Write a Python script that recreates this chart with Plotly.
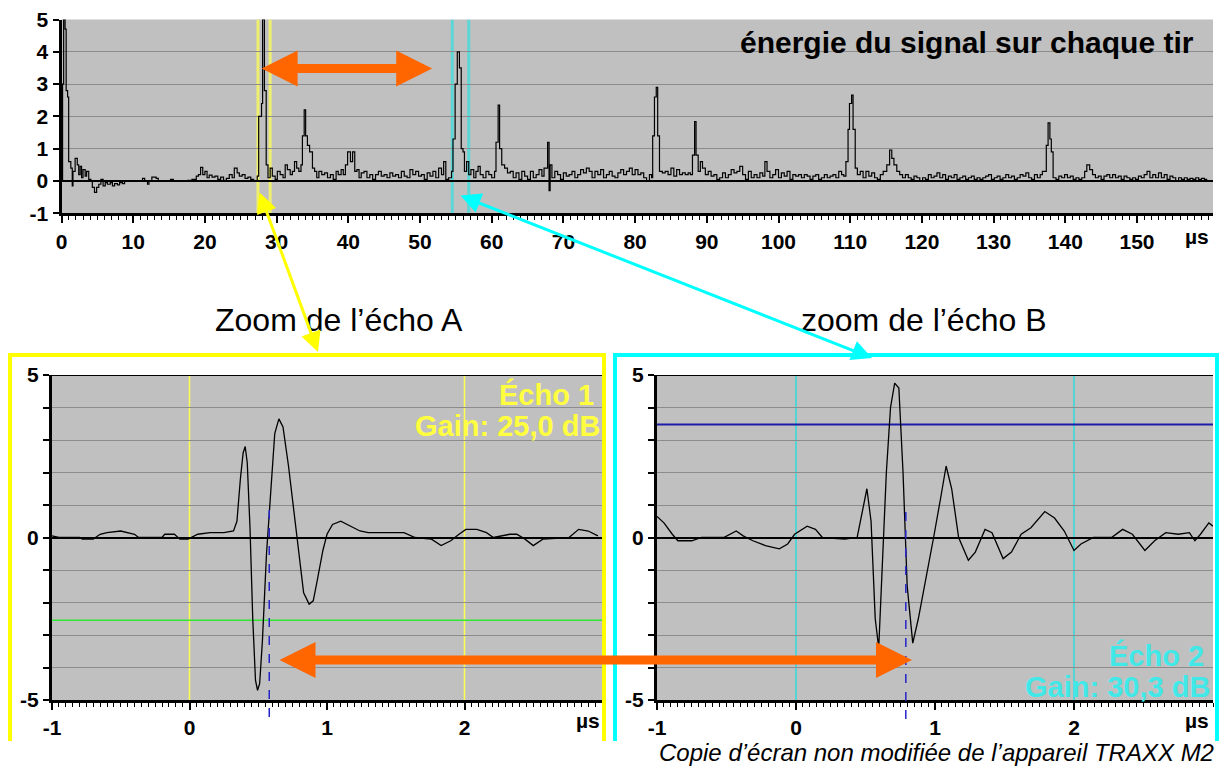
import plotly.graph_objects as go

# ---------------- data ----------------
# top panel: signal energy on each shot (µs, arbitrary units)
top_t = [
    0.0, 0.15, 0.3, 0.5, 0.65, 0.85, 1.0, 1.3, 1.5, 1.6,
    1.9, 2.2, 2.4, 2.6, 2.8, 3.0, 3.3, 3.5, 3.8, 4.1,
    4.3, 4.6, 4.9, 5.2, 5.5, 5.8, 6.1, 6.4, 6.8, 7.1,
    7.4, 7.8, 8.1, 8.5, 8.8, 11.0, 11.3, 11.6, 12.0, 12.2,
    12.6, 13.2, 13.5, 15.2, 15.6, 17.6, 18.2, 18.8, 19.1, 19.4,
    19.7, 20.0, 20.3, 20.6, 21.0, 21.4, 21.8, 22.2, 22.6, 23.0,
    23.4, 23.8, 24.1, 24.5, 24.8, 25.2, 25.6, 26.0, 26.4, 26.8,
    27.3, 27.5, 27.9, 28.05, 28.3, 28.55, 28.8, 29.1, 29.4, 29.8,
    30.1, 30.5, 30.9, 31.2, 31.5, 31.9, 32.2, 32.5, 32.8, 33.1,
    33.4, 33.6, 33.85, 34.05, 34.3, 34.6, 35.0, 35.3, 35.6, 35.9,
    36.3, 36.7, 37.1, 37.5, 37.9, 38.3, 38.6, 39.0, 39.3, 39.6,
    39.9, 40.3, 40.6, 40.9, 41.2, 41.5, 41.8, 42.2, 42.6, 43.0,
    43.4, 43.8, 44.2, 44.6, 45.0, 45.4, 45.8, 46.2, 46.6, 47.0,
    47.4, 47.8, 48.2, 48.6, 49.0, 49.4, 49.8, 50.2, 50.6, 51.0,
    51.4, 51.8, 52.2, 52.6, 53.0, 53.3, 53.6, 54.0, 54.4, 54.6,
    54.9, 55.2, 55.5, 55.75, 56.0, 56.2, 56.5, 56.8, 57.1, 57.5,
    57.8, 58.1, 58.4, 58.8, 59.2, 59.6, 60.0, 60.4, 60.6, 60.9,
    61.1, 61.4, 61.8, 62.2, 62.6, 63.0, 63.4, 63.8, 64.2, 64.6,
    65.0, 65.4, 65.8, 66.2, 66.6, 67.0, 67.3, 67.6, 67.8, 68.0,
    68.15, 68.4, 68.8, 69.2, 69.6, 70.0, 70.4, 70.8, 71.2, 71.6,
    72.0, 72.4, 72.8, 73.2, 73.6, 74.0, 74.4, 74.8, 75.2, 75.6,
    76.0, 76.4, 76.8, 77.2, 77.6, 78.0, 78.4, 78.8, 79.2, 79.6,
    80.0, 80.4, 80.8, 81.2, 81.6, 82.0, 82.3, 82.45, 82.7, 82.95,
    83.15, 83.4, 83.8, 84.2, 84.6, 85.0, 85.4, 85.8, 86.2, 86.6,
    87.0, 87.4, 87.7, 88.0, 88.3, 88.5, 88.8, 89.1, 89.4, 89.8,
    90.2, 90.6, 91.0, 91.4, 91.8, 92.2, 92.6, 93.0, 93.4, 93.8,
    94.2, 94.6, 95.0, 95.4, 95.8, 96.2, 96.6, 97.0, 97.4, 97.8,
    98.1, 98.4, 98.8, 99.2, 99.6, 100.0, 100.4, 100.8, 101.2, 101.6,
    102.0, 102.4, 102.8, 103.2, 103.6, 104.0, 104.4, 104.8, 105.2, 105.6,
    106.0, 106.4, 106.8, 107.2, 107.6, 108.0, 108.4, 108.8, 109.1, 109.4,
    109.7, 109.9, 110.2, 110.4, 110.7, 111.0, 111.4, 111.8, 112.2, 112.6,
    113.0, 113.4, 113.8, 114.2, 114.6, 115.1, 115.5, 115.8, 116.1, 116.5,
    116.9, 117.3, 117.7, 118.1, 118.5, 118.9, 119.3, 119.7, 120.1, 120.5,
    120.9, 121.3, 121.7, 122.1, 122.5, 122.9, 123.3, 123.7, 124.1, 124.5,
    124.9, 125.3, 125.7, 126.1, 126.5, 126.9, 127.3, 127.7, 128.1, 128.5,
    128.9, 129.3, 129.7, 130.1, 130.5, 130.9, 131.3, 131.7, 132.1, 132.5,
    132.9, 133.3, 133.7, 134.1, 134.5, 134.9, 135.3, 135.7, 136.1, 136.5,
    136.8, 137.1, 137.35, 137.6, 137.85, 138.05, 138.3, 138.7, 139.1, 139.5,
    139.9, 140.3, 140.7, 141.1, 141.5, 141.9, 142.3, 142.7, 143.0, 143.4,
    143.8, 144.2, 144.6, 145.0, 145.4, 145.8, 146.2, 146.6, 147.0, 147.4,
    147.8, 148.2, 148.6, 149.0, 149.4, 149.8, 150.2, 150.6, 151.0, 151.4,
    151.8, 152.2, 152.6, 153.0, 153.4, 153.8, 154.2, 154.6, 155.0, 155.4,
    155.8, 156.2, 156.6, 157.0, 157.4, 157.8, 158.2, 158.6, 159.0, 159.4,
    159.8,
]
top_e = [
    0.0, 3.0, 5.0, 4.7, 2.8, 2.6, 0.6, 0.4, -0.15, 0.3,
    0.7, 0.5, 0.2, 0.45, 0.1, 0.35, 0.15, 0.3, 0.05, 0.0,
    -0.2, -0.35, -0.2, -0.1, 0.05, -0.15, -0.05, -0.1, -0.05, -0.15,
    -0.08, -0.12, -0.05, -0.08, 0.0, 0.0, 0.08, 0.0, -0.1, 0.0,
    0.12, 0.08, 0.0, 0.05, 0.0, 0.02, 0.05, 0.15, 0.2, 0.42,
    0.2, 0.3, 0.1, 0.18, 0.12, 0.15, 0.05, 0.12, 0.02, 0.08,
    0.2, 0.1, 0.4, 0.25, 0.15, 0.2, 0.08, 0.12, 0.05, 0.0,
    0.15, 2.0, 2.4, 5.0, 2.8, 0.5, 0.1, 0.4, 0.15, 0.05,
    0.3, 0.2, 0.1, 0.5, 0.35, 0.2, 0.3, 0.6, 0.4, 0.3,
    0.5, 1.4, 2.2, 1.4, 1.1, 0.9, 0.4, 0.3, 0.1, 0.3,
    0.2, 0.25, 0.1, 0.2, 0.05, 0.3, 0.2, 0.35, 0.2, 0.5,
    0.9, 0.6, 0.9, 0.3, 0.35, 0.1, 0.25, 0.3, 0.1, 0.2,
    0.05, 0.2, 0.3, 0.15, 0.2, 0.1, 0.25, 0.15, 0.2, 0.1,
    0.3, 0.15, 0.1, 0.35, 0.2, 0.3, 0.15, 0.2, 0.05, 0.25,
    0.15, 0.3, 0.1, 0.4, 0.2, 0.6, 0.05, 0.1, 0.3, 1.3,
    3.0, 4.0, 3.5, 1.0, 0.9, 0.3, 0.6, 0.2, 0.35, 0.1,
    0.3, 0.45, 0.2, 0.1, 0.3, 0.2, 0.1, 0.3, 1.2, 2.35,
    1.0, 0.5, 0.4, 0.25, 0.3, 0.1, 0.25, 0.05, 0.3, 0.15,
    0.05, 0.3, 0.1, 0.2, 0.35, 0.15, 0.4, 0.4, 1.2, -0.3,
    0.5, 0.1, 0.3, 0.2, 0.05, 0.25, 0.15, 0.2, 0.3, 0.1,
    0.2, 0.35, 0.25, 0.4, 0.3, 0.1, 0.3, 0.2, 0.35, 0.1,
    0.2, 0.3, 0.15, 0.1, 0.25, 0.35, 0.2, 0.3, 0.4, 0.2,
    0.35, 0.2, 0.25, 0.1, 0.0, 0.2, 0.1, 1.4, 2.6, 2.9,
    1.4, 0.3, 0.25, 0.3, 0.2, 0.4, 0.15, 0.35, 0.2, 0.25,
    0.2, 0.25, 0.2, 0.8, 1.84, 0.8, 0.3, 0.6, 0.4, 0.2,
    0.3, 0.15, 0.2, 0.05, 0.1, 0.25, 0.1, 0.2, 0.35, 0.25,
    0.3, 0.45, 0.2, 0.05, 0.3, 0.1, 0.2, 0.1, 0.25, 0.15,
    0.6, 0.3, 0.1, 0.2, 0.35, 0.1, 0.25, 0.15, 0.3, 0.05,
    0.2, 0.15, 0.2, 0.1, 0.2, 0.15, 0.05, 0.15, 0.2, 0.05,
    0.1, 0.2, 0.1, 0.15, 0.2, 0.1, 0.3, 0.2, 0.15, 0.6,
    1.6, 2.4, 2.66, 1.6, 0.4, 0.2, 0.3, 0.1, 0.3, 0.15,
    0.25, 0.1, 0.05, 0.2, 0.3, 0.5, 0.96, 0.7, 0.5, 0.3,
    0.2, 0.1, 0.2, 0.1, 0.05, 0.15, 0.1, 0.0, 0.1, 0.05,
    0.2, 0.1, 0.15, 0.25, 0.1, 0.2, 0.05, 0.15, 0.1, 0.2,
    0.05, 0.1, 0.15, 0.05, 0.1, 0.15, 0.05, 0.1, 0.05, 0.1,
    0.15, 0.2, 0.05, 0.1, 0.15, 0.05, 0.1, 0.2, 0.1, 0.15,
    0.05, 0.1, 0.2, 0.15, 0.25, 0.1, 0.05, 0.2, 0.1, 0.2,
    0.3, 0.3, 1.1, 1.8, 1.3, 0.9, 0.1, 0.05, 0.15, 0.1,
    0.2, 0.1, 0.15, 0.05, 0.1, 0.05, 0.1, 0.3, 0.5, 0.35,
    0.2, 0.1, 0.15, 0.05, 0.15, 0.2, 0.1, 0.2, 0.1, 0.15,
    0.05, 0.15, 0.1, 0.05, 0.1, 0.05, 0.15, 0.1, 0.2, 0.3,
    0.1, 0.2, 0.1, 0.25, 0.1, 0.2, 0.05, 0.15, 0.1, 0.0,
    0.1, 0.05, 0.1, 0.05, 0.08, 0.05, 0.1, 0.05, 0.08, 0.05,
    0.05,
]

# bottom-left panel: zoom on echo A (echo 1)
echo1_t = [
    -1.0, -0.95, -0.8, -0.78, -0.7, -0.65, -0.6, -0.5, -0.4, -0.37,
    -0.2, -0.18, -0.11, -0.07, -0.01, 0.06, 0.15, 0.25, 0.32, 0.345,
    0.37, 0.39, 0.405, 0.42, 0.44, 0.46, 0.48, 0.495, 0.51, 0.53,
    0.56, 0.59, 0.62, 0.65, 0.68, 0.72, 0.76, 0.79, 0.83, 0.87,
    0.9, 0.93, 0.97, 1.0, 1.04, 1.1, 1.15, 1.24, 1.3, 1.56,
    1.64, 1.76, 1.83, 1.9, 1.96, 2.01, 2.09, 2.16, 2.21, 2.33,
    2.38, 2.44, 2.5, 2.57, 2.76, 2.83, 2.9, 2.97,
]
echo1_v = [
    0.05, 0.0, 0.0, -0.05, -0.05, 0.1, 0.15, 0.2, 0.1, 0.0,
    0.0, 0.1, 0.1, -0.05, -0.05, 0.1, 0.15, 0.15, 0.2, 0.5,
    1.8, 2.6, 2.8, 2.3, 0.3, -2.5, -4.4, -4.7, -4.5, -3.2,
    -0.5, 1.5, 3.2, 3.65, 3.4, 2.2, 0.8, -0.4, -1.7, -2.05,
    -1.95, -1.3, -0.4, 0.1, 0.4, 0.5, 0.4, 0.2, 0.15, 0.15,
    0.0, -0.05, -0.25, -0.1, 0.1, 0.25, 0.25, 0.15, 0.0, 0.1,
    0.1, -0.05, -0.25, -0.05, 0.0, 0.25, 0.2, 0.05,
]

# bottom-right panel: zoom on echo B (echo 2)
echo2_t = [
    -1.0, -0.95, -0.89, -0.85, -0.75, -0.68, -0.52, -0.43, -0.38, -0.31,
    -0.22, -0.12, -0.06, -0.01, 0.08, 0.14, 0.19, 0.35, 0.44, 0.48,
    0.51, 0.54, 0.57, 0.595, 0.62, 0.65, 0.68, 0.71, 0.74, 0.77,
    0.80, 0.84, 0.88, 0.94, 0.99, 1.04, 1.08, 1.12, 1.17, 1.24,
    1.29, 1.36, 1.41, 1.49, 1.55, 1.62, 1.69, 1.79, 1.86, 1.93,
    2.0, 2.05, 2.14, 2.27, 2.35, 2.42, 2.51, 2.58, 2.66, 2.75,
    2.83, 2.87, 2.91, 2.97, 3.0,
]
echo2_v = [
    0.65, 0.45, 0.1, -0.1, -0.1, 0.0, 0.0, 0.2, 0.05, -0.1,
    -0.25, -0.35, -0.2, 0.1, 0.35, 0.25, 0.0, -0.05, 0.0, 0.8,
    1.5, 0.5, -2.5, -3.4, -1.0, 2.0, 4.0, 4.75, 4.6, 2.0,
    -1.5, -3.25, -2.5, -1.2, 0.0, 1.2, 2.2, 1.5, 0.0, -0.7,
    -0.45, 0.25, 0.15, -0.65, -0.45, 0.1, 0.3, 0.8, 0.6, 0.2,
    -0.4, -0.2, 0.0, 0.0, 0.25, 0.1, -0.4, -0.1, 0.15, 0.1,
    0.15, -0.1, 0.1, 0.45, 0.35,
]

# ticks
top_xticks = [0, 10, 20, 30, 40, 50, 60, 70, 80, 90, 100, 110, 120, 130, 140, 150]
top_yticks = [-1, 0, 1, 2, 3, 4, 5]
zoom_xticks = [-1, 0, 1, 2]
zoom_yticks = [-5, -4, -3, -2, -1, 0, 1, 2, 3, 4, 5]
zoom_ylabels = ["-5", "", "", "", "", "0", "", "", "", "", "5"]

# instrument cursors / gates / levels
cursor_A = [27.4, 29.1]
cursor_B = [54.5, 56.8]
echo1_gates = [0, 2]
echo1_level = -2.55
echo1_mark = 0.58
echo2_gates = [0, 2]
echo2_level = 3.48
echo2_mark = 0.79
arrow_top_y = 3.48
arrow_top_x = [27.7, 51.7]

# ---------------- layout helpers ----------------
W, H = 1220, 767


def xp(px):
    return px / W


def yp(py):
    return 1 - py / H


FONT = "Liberation Sans, Arial, Helvetica, sans-serif"
TICKFONT = dict(family=FONT, size=21, color="black", weight="bold")


def fmt(v):
    return str(v)


def make_xaxis(domain, rng, tickvals, minor_dtick, anchor):
    return dict(
        domain=domain, range=rng, anchor=anchor, automargin=False,
        tickmode="array", tickvals=tickvals, ticktext=[fmt(v) for v in tickvals],
        ticks="outside", ticklen=7, tickwidth=2, tickcolor="black",
        showline=True, linecolor="black", linewidth=3,
        showgrid=False, zeroline=False, tickfont=TICKFONT,
        minor=dict(tickmode="linear", tick0=0, dtick=minor_dtick, ticks="outside",
                   ticklen=4, tickwidth=1, tickcolor="black", showgrid=False),
        fixedrange=True,
    )


def make_yaxis(domain, rng, tickvals, ticktext, anchor):
    return dict(
        domain=domain, range=rng, anchor=anchor, automargin=False,
        tickmode="array", tickvals=tickvals, ticktext=ticktext,
        ticks="outside", ticklen=6, tickwidth=2, tickcolor="black",
        showline=True, linecolor="black", linewidth=3,
        showgrid=True, gridcolor="#8c8c8c", gridwidth=1,
        zeroline=True, zerolinecolor="black", zerolinewidth=2,
        tickfont=TICKFONT, fixedrange=True,
    )


fig = go.Figure()
line_style = dict(color="black", width=1.3)
fig.add_trace(go.Scatter(x=top_t, y=top_e, mode="lines",
                         line=dict(color="black", width=1.2, shape="hv"),
                         xaxis="x", yaxis="y", hoverinfo="skip"))
fig.add_trace(go.Scatter(x=echo1_t, y=echo1_v, mode="lines", line=line_style,
                         xaxis="x2", yaxis="y2", hoverinfo="skip"))
fig.add_trace(go.Scatter(x=echo2_t, y=echo2_v, mode="lines", line=line_style,
                         xaxis="x3", yaxis="y3", hoverinfo="skip"))

shapes = []
# cursors in top panel
for c in cursor_A:
    shapes.append(dict(type="line", xref="x", yref="y", x0=c, x1=c, y0=-1, y1=5,
                       line=dict(color="#eeee70", width=3), layer="below"))
for c in cursor_B:
    shapes.append(dict(type="line", xref="x", yref="y", x0=c, x1=c, y0=-1, y1=5,
                       line=dict(color="#5cd6d6", width=3), layer="below"))
# echo 1 gates and level
for g in echo1_gates:
    shapes.append(dict(type="line", xref="x2", yref="y2", x0=g, x1=g, y0=-5, y1=5,
                       line=dict(color="#ffff50", width=1.5), layer="below"))
shapes.append(dict(type="line", xref="x2", yref="y2", x0=-1, x1=3.0,
                   y0=echo1_level, y1=echo1_level,
                   line=dict(color="#30e830", width=1.5), layer="below"))
# echo 2 gates and level
for g in echo2_gates:
    shapes.append(dict(type="line", xref="x3", yref="y3", x0=g, x1=g, y0=-5, y1=5,
                       line=dict(color="#30dcdc", width=1.5), layer="below"))
shapes.append(dict(type="line", xref="x3", yref="y3", x0=-1, x1=3.0,
                   y0=echo2_level, y1=echo2_level,
                   line=dict(color="#1c1ca8", width=2), layer="below"))
# top border of zoom panels
for xr, yr in (("x2", "y2"), ("x3", "y3")):
    shapes.append(dict(type="line", xref=xr, yref=yr, x0=-1, x1=3.0, y0=5, y1=5,
                       line=dict(color="black", width=2), layer="above"))
# dashed time markers
shapes.append(dict(type="line", xref="x2", yref="paper", x0=echo1_mark, x1=echo1_mark,
                   y0=yp(510), y1=yp(722),
                   line=dict(color="#2424c8", width=1.5, dash="dash"), layer="above"))
shapes.append(dict(type="line", xref="x3", yref="paper", x0=echo2_mark, x1=echo2_mark,
                   y0=yp(512), y1=yp(722),
                   line=dict(color="#2424c8", width=1.5, dash="dash"), layer="above"))
# frames around zoom panels
shapes.append(dict(type="path", xref="paper", yref="paper",
                   path=f"M {xp(10)} {yp(741)} L {xp(10)} {yp(355)} L {xp(604)} {yp(355)} L {xp(604)} {yp(741)}",
                   line=dict(color="#ffff00", width=4), layer="above"))
shapes.append(dict(type="path", xref="paper", yref="paper",
                   path=f"M {xp(615)} {yp(741)} L {xp(615)} {yp(355)} L {xp(1217)} {yp(355)} L {xp(1217)} {yp(741)}",
                   line=dict(color="#00ffff", width=4), layer="above"))

annotations = []
# top title
annotations.append(dict(xref="paper", yref="paper", x=xp(1196), y=yp(42),
                        xanchor="right", yanchor="middle", showarrow=False,
                        text="énergie du signal sur chaque tir",
                        font=dict(family=FONT, size=30, color="black", weight="bold")))
# µs unit labels
annotations.append(dict(xref="paper", yref="paper", x=xp(1197), y=yp(236),
                        xanchor="center", yanchor="middle", showarrow=False,
                        text="µs", font=TICKFONT))
annotations.append(dict(xref="paper", yref="paper", x=xp(588), y=yp(720),
                        xanchor="center", yanchor="middle", showarrow=False,
                        text="µs", font=TICKFONT))
annotations.append(dict(xref="paper", yref="paper", x=xp(1197), y=yp(720),
                        xanchor="center", yanchor="middle", showarrow=False,
                        text="µs", font=TICKFONT))
# zoom captions
annotations.append(dict(xref="paper", yref="paper", x=xp(339), y=yp(320),
                        xanchor="center", yanchor="middle", showarrow=False,
                        text="Zoom de l’écho A",
                        font=dict(family=FONT, size=32, color="black")))
annotations.append(dict(xref="paper", yref="paper", x=xp(923), y=yp(320),
                        xanchor="center", yanchor="middle", showarrow=False,
                        text="zoom de l’écho B",
                        font=dict(family=FONT, size=32, color="black")))
# echo labels
ECHO_FONT = dict(family=FONT, size=29, weight="bold")
annotations.append(dict(xref="paper", yref="paper", x=xp(596), y=yp(394),
                        xanchor="right", yanchor="middle", showarrow=False,
                        text="Écho 1", font=dict(ECHO_FONT, color="#ffff40")))
annotations.append(dict(xref="paper", yref="paper", x=xp(602), y=yp(426),
                        xanchor="right", yanchor="middle", showarrow=False,
                        text="Gain: 25,0 dB", font=dict(ECHO_FONT, color="#ffff40")))
annotations.append(dict(xref="paper", yref="paper", x=xp(1206), y=yp(655),
                        xanchor="right", yanchor="middle", showarrow=False,
                        text="Écho 2", font=dict(ECHO_FONT, color="#40e8e8")))
annotations.append(dict(xref="paper", yref="paper", x=xp(1212), y=yp(687),
                        xanchor="right", yanchor="middle", showarrow=False,
                        text="Gain: 30,3 dB", font=dict(ECHO_FONT, color="#40e8e8")))
# source caption
annotations.append(dict(xref="paper", yref="paper", x=xp(1216), y=yp(752),
                        xanchor="right", yanchor="middle", showarrow=False,
                        text="Copie d’écran non modifiée de l’appareil TRAXX M2",
                        font=dict(family=FONT, size=24, color="black", style="italic")))

# arrows
ORANGE = "#ff6600"
annotations.append(dict(xref="x", yref="y", axref="x", ayref="y",
                        x=arrow_top_x[1], y=arrow_top_y, ax=arrow_top_x[0], ay=arrow_top_y,
                        text="", showarrow=True, arrowside="end+start",
                        arrowhead=2, startarrowhead=2, arrowwidth=9,
                        arrowsize=0.8, startarrowsize=0.8, arrowcolor=ORANGE,
                        standoff=0, startstandoff=0))
annotations.append(dict(xref="paper", yref="paper", x=xp(912), y=yp(660),
                        ax=278 - 912, ay=0,
                        text="", showarrow=True, arrowside="end+start",
                        arrowhead=2, startarrowhead=2, arrowwidth=9,
                        arrowsize=0.8, startarrowsize=0.8, arrowcolor=ORANGE,
                        standoff=0, startstandoff=0))
annotations.append(dict(xref="paper", yref="paper", x=xp(318), y=yp(352),
                        ax=259 - 318, ay=191 - 352,
                        text="", showarrow=True, arrowside="end+start",
                        arrowhead=2, startarrowhead=2, arrowwidth=3,
                        arrowsize=1.35, startarrowsize=1.35, arrowcolor="#ffff00",
                        standoff=0, startstandoff=0))
annotations.append(dict(xref="paper", yref="paper", x=xp(872), y=yp(358),
                        ax=459 - 872, ay=195 - 358,
                        text="", showarrow=True, arrowside="end+start",
                        arrowhead=2, startarrowhead=2, arrowwidth=3,
                        arrowsize=1.35, startarrowsize=1.35, arrowcolor="#00ffff",
                        standoff=0, startstandoff=0))

fig.update_layout(
    width=W, height=H, margin=dict(l=0, r=0, t=0, b=0, autoexpand=False),
    paper_bgcolor="white", plot_bgcolor="#c0c0c0", showlegend=False,
    xaxis=make_xaxis([xp(61.5), xp(1213)], [0, 160.6], top_xticks, 1, "y"),
    yaxis=make_yaxis([yp(213.3), yp(19.5)], [-1, 5], top_yticks,
                     [fmt(v) for v in top_yticks], "x"),
    xaxis2=make_xaxis([xp(52), xp(602)], [-1, 3.0], zoom_xticks, 0.05, "y2"),
    yaxis2=make_yaxis([yp(700), yp(375)], [-5, 5], zoom_yticks, zoom_ylabels, "x2"),
    xaxis3=make_xaxis([xp(657), xp(1213)], [-1, 3.0], zoom_xticks, 0.05, "y3"),
    yaxis3=make_yaxis([yp(700), yp(375)], [-5, 5], zoom_yticks, zoom_ylabels, "x3"),
    shapes=shapes, annotations=annotations,
)

fig.write_html("out.html", config={"displayModeBar": False},
               post_script="document.body.style.margin='0px';")
